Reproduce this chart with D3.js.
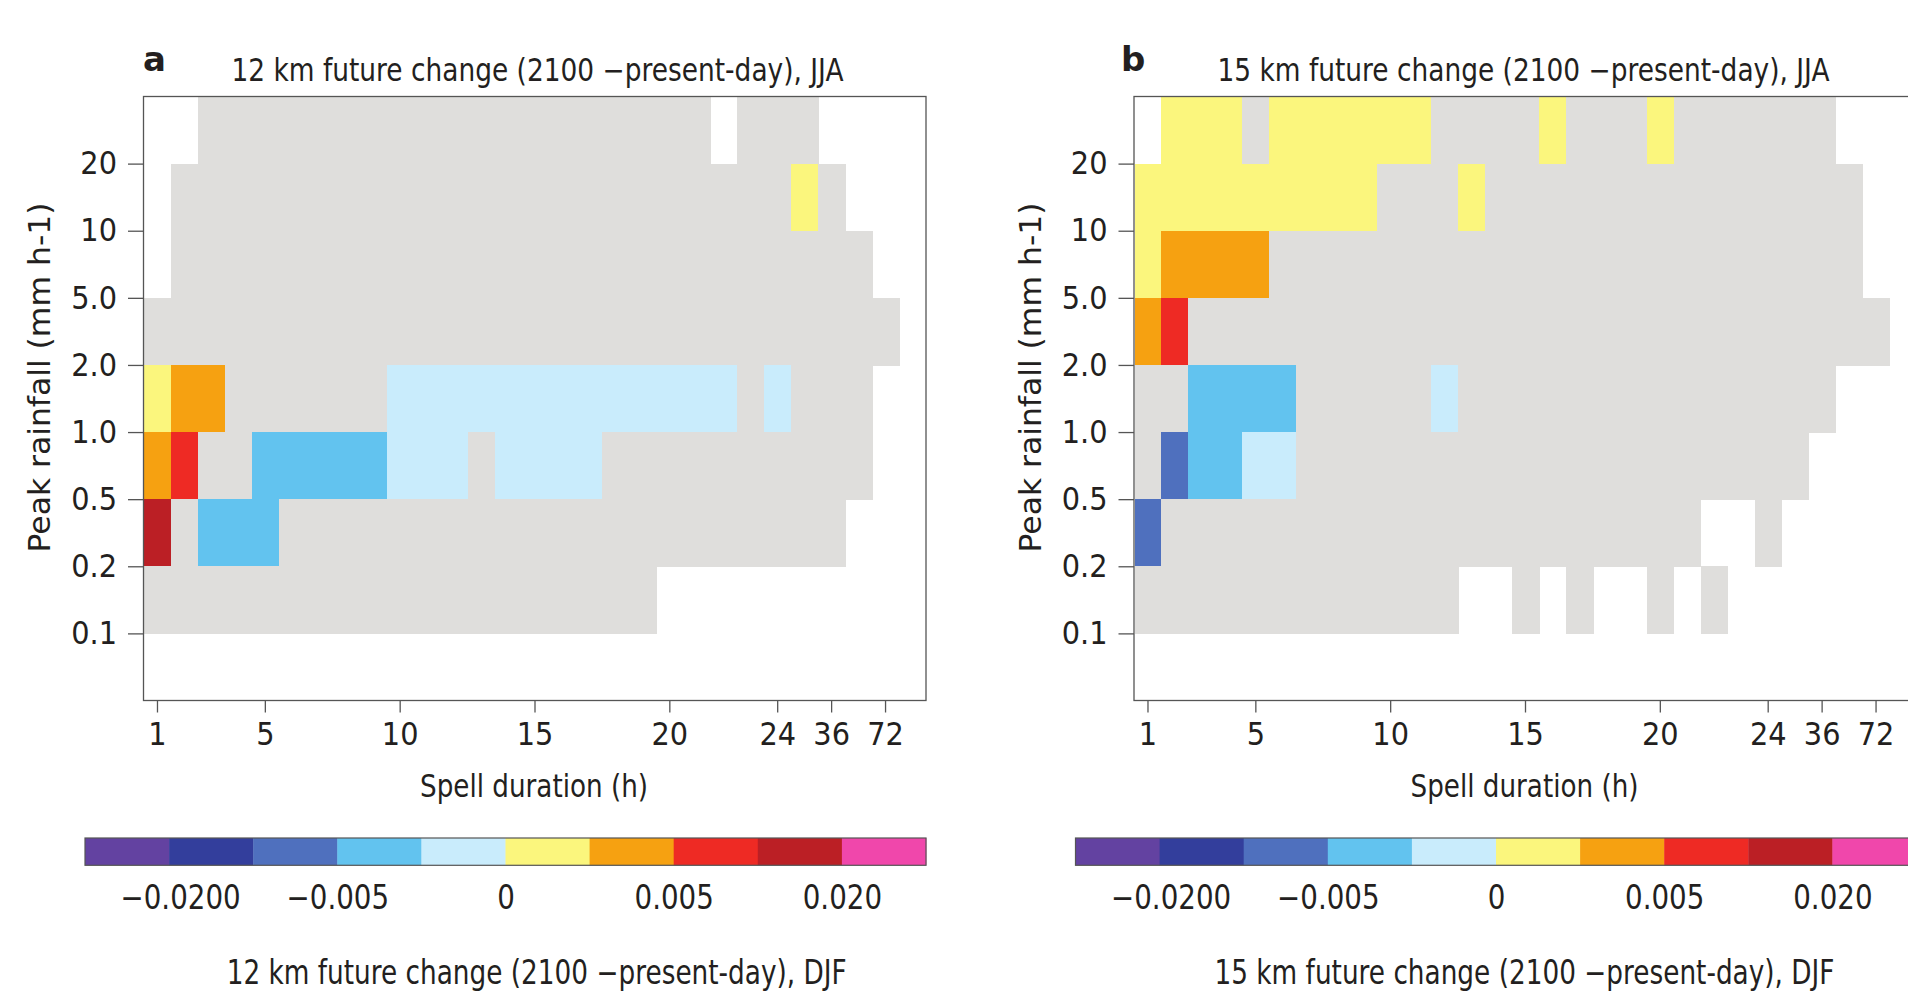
<!DOCTYPE html>
<html>
<head>
<meta charset="utf-8">
<script src="https://cdn.jsdelivr.net/npm/d3@7"></script>
<style>
  body { margin: 0; background: #fff; }
  text { font-family: 'DejaVu Sans', sans-serif; fill: #231f20; }
</style>
</head>
<body>
<div id="chart"></div>
<script>
// Spell duration bins (hours), one per column
const durations = ['1', '2', '3', '4', '5', '6', '7', '8', '9', '10', '11', '12', '13', '14', '15',
    '16', '17', '18', '19', '20', '21', '22', '23', '24', '30', '36', '48', '72', '96'];
const durationTicks = ['1', '5', '10', '15', '20', '24', '36', '72'];

// Peak rainfall bins (mm h-1), top to bottom; tick labels sit on the bin edges
const rainBins = ['>20', '10-20', '5-10', '2-5', '1-2', '0.5-1', '0.2-0.5', '0.1-0.2', '<0.1'];
const rainTicks = ['20', '10', '5.0', '2.0', '1.0', '0.5', '0.2', '0.1'];

// Colour classes of the colour bar (index 0..9)
const classColors = ['#6342a1', '#333e9c', '#4f70be', '#62c3ef', '#c9ecfc',
    '#fbf67d', '#f6a111', '#ee2a24', '#bb1f25', '#f047ab'];
const cbarTickEdges = [1, 3, 5, 7, 9];
const cbarTickLabels = ['\u22120.0200', '\u22120.005', '0', '0.005', '0.020'];

// Cell classes, one string per rainfall bin, one char per duration:
// '.' = no data, 'g' = not significant, '0'..'9' = colour class
const change12 = [
    '..ggggggggggggggggggg.ggg....',
    '.ggggggggggggggggggggggg5g...',
    '.gggggggggggggggggggggggggg..',
    'gggggggggggggggggggggggggggg.',
    '566gggggg4444444444444g4ggg..',
    '67gg33333444g4444gggggggggg..',
    '8g333ggggggggggggggggggggg...',
    'ggggggggggggggggggg..........',
    '.............................'
];
const change15 = [
    '.555g555555gggg5ggg5gggggg...',
    '555555555ggg5gggggggggggggg..',
    '56666gggggggggggggggggggggg..',
    '67gggggggggggggggggggggggggg.',
    'gg3333ggggg4gggggggggggggg...',
    'g23344ggggggggggggggggggg....',
    '2gggggggggggggggggggg..g.....',
    'gggggggggggg..g.g..g.g.......',
    '.............................'
];

const panels = [
    { id: 'a', rows: change12, dx: 0, labelX: 143, titleX: 537.5, bottomX: 536.7,
      title: '12 km future change (2100 \u2212present-day), JJA',
      bottom: '12 km future change (2100 \u2212present-day), DJF' },
    { id: 'b', rows: change15, dx: 990.5, labelX: 130.5, titleX: 533, bottomX: 534,
      title: '15 km future change (2100 \u2212present-day), JJA',
      bottom: '15 km future change (2100 \u2212present-day), DJF' }
];

const W = 1908, H = 997;
const box = { left: 143.5, right: 926, top: 96.5, bottom: 700.5 };
const nsColor = '#dfdedc';
const axisColor = '#555';

const svg = d3.select('#chart').append('svg')
    .attr('width', W)
    .attr('height', H)
    .style('display', 'block');

// squeeze a text horizontally, the reference fonts are narrow
function condense(sel, factor) {
    sel.each(function() {
        const w = this.getComputedTextLength();
        d3.select(this).attr('textLength', w * factor).attr('lengthAdjust', 'spacingAndGlyphs');
    });
}

const x = d3.scaleBand()
    .domain(durations)
    .range([box.left + 0.5, box.right]);

const y = d3.scaleLinear()
    .domain([0, rainBins.length])
    .range([box.top, box.bottom]);

const cbarX = d3.scaleLinear()
    .domain([0, classColors.length])
    .range([85, 926]);

panels.forEach(p => {
    const g = svg.append('g').attr('transform', `translate(${p.dx},0)`);

    // cells
    const cells = [];
    p.rows.forEach((row, r) => {
        row.split('').forEach((c, k) => {
            if (c !== '.') cells.push({ r: r, dur: durations[k], cls: c });
        });
    });
    g.selectAll('.cell')
        .data(cells)
        .enter()
        .append('rect')
        .attr('class', 'cell')
        .attr('x', d => x(d.dur))
        .attr('y', d => y(d.r))
        .attr('width', x.bandwidth() + 0.6)
        .attr('height', y(1) - y(0) + 0.6)
        .attr('shape-rendering', 'crispEdges')
        .attr('fill', d => d.cls === 'g' ? nsColor : classColors[+d.cls]);

    // frame
    g.append('rect')
        .attr('x', box.left)
        .attr('y', box.top)
        .attr('width', box.right - box.left)
        .attr('height', box.bottom - box.top)
        .attr('fill', 'none')
        .attr('stroke', axisColor)
        .attr('stroke-width', 1.3);

    // y axis
    const yAxis = g.append('g')
        .attr('transform', `translate(${box.left},0)`)
        .call(d3.axisLeft(y)
            .tickValues(d3.range(1, rainBins.length))
            .tickFormat(i => rainTicks[i - 1])
            .tickSize(15.5)
            .tickPadding(11));
    yAxis.select('.domain').remove();
    yAxis.selectAll('line').attr('stroke', axisColor).attr('stroke-width', 1.3);
    yAxis.selectAll('text')
        .style('font-family', "'DejaVu Sans', sans-serif")
        .style('font-size', '32px')
        .attr('fill', '#231f20')
        .call(condense, 0.9);

    // x axis
    const xAxis = g.append('g')
        .attr('transform', `translate(0,${box.bottom})`)
        .call(d3.axisBottom(x)
            .tickValues(durationTicks)
            .tickSize(12)
            .tickPadding(10));
    xAxis.select('.domain').remove();
    xAxis.selectAll('line').attr('stroke', axisColor).attr('stroke-width', 1.3);
    xAxis.selectAll('text')
        .style('font-family', "'DejaVu Sans', sans-serif")
        .style('font-size', '32px')
        .attr('fill', '#231f20')
        .call(condense, 0.9);

    // panel letter and title
    g.append('text')
        .attr('x', p.labelX)
        .attr('y', 70.5)
        .style('font-size', '34px')
        .style('font-weight', 'bold')
        .text(p.id);

    g.append('text')
        .attr('x', p.titleX)
        .attr('y', 80.7)
        .attr('text-anchor', 'middle')
        .style('font-size', '31.5px')
        .attr('textLength', 612)
        .attr('lengthAdjust', 'spacingAndGlyphs')
        .text(p.title);

    // axis titles
    g.append('text')
        .attr('transform', 'translate(50,377.5) rotate(-90)')
        .attr('text-anchor', 'middle')
        .style('font-size', '31px')
        .attr('textLength', 350)
        .attr('lengthAdjust', 'spacingAndGlyphs')
        .text('Peak rainfall (mm h-1)');

    g.append('text')
        .attr('x', 534)
        .attr('y', 796.7)
        .attr('text-anchor', 'middle')
        .style('font-size', '32px')
        .attr('textLength', 228)
        .attr('lengthAdjust', 'spacingAndGlyphs')
        .text('Spell duration (h)');

    // colour bar
    g.selectAll('.cbar')
        .data(classColors)
        .enter()
        .append('rect')
        .attr('class', 'cbar')
        .attr('x', (d, i) => cbarX(i))
        .attr('y', 838)
        .attr('width', cbarX(1) - cbarX(0) + 0.4)
        .attr('height', 27.3)
        .attr('fill', d => d);

    g.append('rect')
        .attr('x', cbarX(0))
        .attr('y', 838)
        .attr('width', cbarX(classColors.length) - cbarX(0))
        .attr('height', 27.3)
        .attr('fill', 'none')
        .attr('stroke', axisColor)
        .attr('stroke-width', 1.2);

    const cAxis = g.append('g')
        .attr('transform', 'translate(0,865.3)')
        .call(d3.axisBottom(cbarX)
            .tickValues(cbarTickEdges)
            .tickFormat((d, i) => cbarTickLabels[i])
            .tickSize(0)
            .tickPadding(20));
    cAxis.select('.domain').remove();
    cAxis.selectAll('text')
        .style('font-family', "'DejaVu Sans', sans-serif")
        .style('font-size', '33px')
        .attr('fill', '#231f20')
        .attr('dx', (d, i) => i === 0 ? 11 : 0)
        .call(condense, 0.84);

    g.append('text')
        .attr('x', p.bottomX)
        .attr('y', 984)
        .attr('text-anchor', 'middle')
        .style('font-size', '33px')
        .attr('textLength', 620)
        .attr('lengthAdjust', 'spacingAndGlyphs')
        .text(p.bottom);
});
</script>
</body>
</html>
